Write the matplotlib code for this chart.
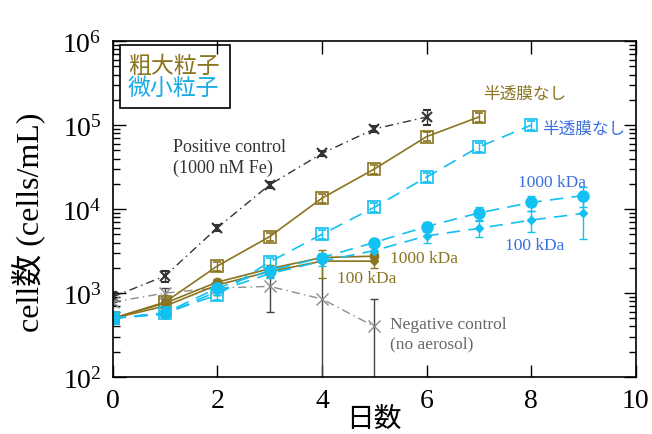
import numpy as np
import matplotlib
matplotlib.use("Agg")
import matplotlib.pyplot as plt

plt.rcParams['font.family'] = ['Liberation Serif', 'Noto Sans CJK JP']
plt.rcParams['mathtext.fontset'] = 'stix'

# colours
olive = '#8a7420'
cyan = '#12c0f2'
blue = '#3a6fe0'
pos_col = '#333333'
neg_col = '#8c8c8c'

# Positive control (1000 nM Fe)
pos_days = [0, 1, 2, 3, 4, 5, 6]
pos_vals = [900, 1600, 6000, 19500, 46000, 90000, 125000]
pos_lo = [120, 250, 500, 1500, 3000, 8000, 25000]
pos_hi = [120, 250, 500, 1500, 3000, 8000, 25000]

# Negative control (no aerosol)
neg_days = [0, 1, 2, 3, 4, 5]
neg_vals = [780, 1000, 1150, 1200, 850, 400]
neg_lo = [60, 150, 200, 600, 820, 390]
neg_hi = [60, 150, 200, 600, 1700, 450]

# coarse particles (粗大粒子)
c_none_days = [0, 1, 2, 3, 4, 5, 6, 7]
c_none_vals = [500, 780, 2100, 4700, 13500, 30000, 73000, 125000]
c_1000_days = [0, 1, 2, 3, 4, 5]
c_1000_vals = [500, 760, 1350, 1950, 2650, 2750]
c_100_days = [0, 1, 2, 3, 4, 5]
c_100_vals = [500, 700, 1250, 1800, 2400, 2400]
c_100_err = [20, 50, 150, 250, 900, 400]

# fine particles (微小粒子)
f_none_days = [0, 1, 2, 3, 4, 5, 6, 7, 8]
f_none_vals = [500, 580, 950, 2350, 5000, 10500, 24000, 55000, 100000]
f_1000_days = [0, 1, 2, 3, 4, 5, 6, 7, 8, 9]
f_1000_vals = [500, 580, 1150, 1850, 2650, 4000, 6200, 9000, 12000, 14500]
f_1000_err = [20, 40, 100, 200, 300, 300, 800, 1500, 2500, 4000]
f_100_days = [0, 1, 2, 3, 4, 5, 6, 7, 8, 9]
f_100_vals = [500, 560, 1050, 1700, 2400, 3200, 4800, 5900, 7400, 8900]
f_100_err = [20, 40, 100, 200, 300, 400, 900, 1300, 2000, 4500]

fig = plt.figure(figsize=(6.52, 4.35), dpi=100)
ax = fig.add_axes([0.173, 0.131, 0.802, 0.772])

# controls
ax.errorbar(pos_days, pos_vals, yerr=[pos_lo, pos_hi], color=pos_col, marker='x', ms=7, mew=1.5,
            ls=(0, (6, 3, 1, 3)), lw=1, capsize=3, elinewidth=1)
ax.errorbar(neg_days, neg_vals, yerr=[neg_lo, neg_hi], color=neg_col, ecolor='#444444', marker='x', ms=8,
            mew=1, ls=(0, (6, 3, 1, 3)), lw=1, capsize=3, elinewidth=1)

# coarse
ax.errorbar(c_none_days, c_none_vals, yerr=np.array(c_none_vals) * 0.12, color=olive, marker='s', ms=9,
            mfc='none', mew=1.2, ls='-', lw=1.2, capsize=3, elinewidth=1)
ax.errorbar(c_1000_days, c_1000_vals, yerr=np.array(c_1000_vals) * 0.1, color=olive, marker='o', ms=6,
            ls='-', lw=1.2, capsize=3, elinewidth=1)
ax.errorbar(c_100_days, c_100_vals, yerr=c_100_err, color=olive, marker='D', ms=4,
            ls='-', lw=1.2, capsize=3, elinewidth=1)

# fine
ax.errorbar(f_none_days, f_none_vals, yerr=np.array(f_none_vals) * 0.12, color=cyan, marker='s', ms=9,
            mfc='none', mew=1.2, ls=(0, (8, 5)), lw=1.2, capsize=3, elinewidth=1)
ax.errorbar(f_1000_days, f_1000_vals, yerr=f_1000_err, color=cyan, marker='o', ms=8,
            ls=(0, (8, 5)), lw=1.2, capsize=3, elinewidth=1)
ax.errorbar(f_100_days, f_100_vals, yerr=f_100_err, color=cyan, marker='D', ms=4,
            ls=(0, (8, 5)), lw=1.2, capsize=3, elinewidth=1)

ax.set_yscale('log')
ax.set_xlim(0, 10)
ax.set_ylim(100, 1e6)
ax.set_xticks([0, 2, 4, 6, 8, 10])
ax.tick_params(which='both', direction='in', top=True, right=True, labelsize=20, pad=8)
ax.tick_params(which='major', length=9, width=1)
ax.tick_params(which='minor', length=5, width=1)
for s in ax.spines.values():
    s.set_linewidth(1.2)

ax.set_xlabel('日数', fontsize=20, labelpad=-7, family=['Noto Sans CJK JP'])
ax.set_ylabel('cell数 (cells/mL)', fontsize=23)
ax.yaxis.set_label_coords(-0.13, 0.464)

# annotations
ax.text(1.15, 7.0e4, 'Positive control\n(1000 nM Fe)', fontsize=13, color=pos_col, va='top', linespacing=1.25)
ax.text(5.3, 530, 'Negative control\n(no aerosol)', fontsize=12.5, color='#666666', va='top', linespacing=1.3)
ax.text(7.88, 2.4e5, '半透膜なし', fontsize=12, color=olive, va='center', ha='center', family=['Noto Sans CJK JP'])
ax.text(8.22, 9.1e4, '半透膜なし', fontsize=12, color=blue, va='center', ha='left', family=['Noto Sans CJK JP'])
ax.text(8.4, 2.1e4, '1000 kDa', fontsize=12.5, color=blue, va='center', ha='center')
ax.text(8.07, 3.7e3, '100 kDa', fontsize=12.5, color=blue, va='center', ha='center')
ax.text(5.3, 2.65e3, '1000 kDa', fontsize=12.5, color=olive, va='center', ha='left')
ax.text(4.28, 1.5e3, '100 kDa', fontsize=12.5, color=olive, va='center', ha='left')

# legend box
ax.text(0.029, 0.929, '粗大粒子', transform=ax.transAxes, fontsize=16.5, color=olive, va='center',
        family=['Noto Sans CJK JP'])
ax.text(0.029, 0.863, '微小粒子', transform=ax.transAxes, fontsize=16.5, color='#1aaae6', va='center',
        family=['Noto Sans CJK JP'])
ax.add_patch(plt.Rectangle((0.013, 0.80), 0.212, 0.188, transform=ax.transAxes, fill=False,
                           ec='black', lw=1.2))

fig.savefig('out.png', dpi=100)
